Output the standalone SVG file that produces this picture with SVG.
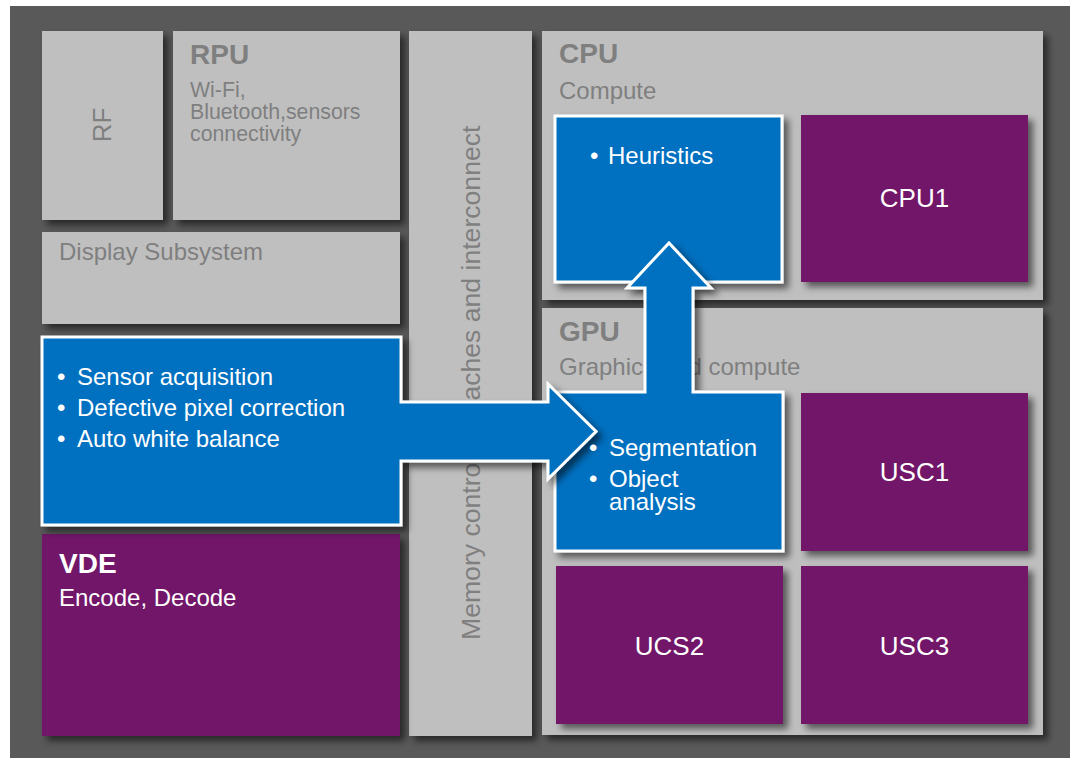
<svg xmlns="http://www.w3.org/2000/svg" width="1070" height="758" viewBox="0 0 1070 758">
<defs>
<filter id="sh" x="-10%" y="-10%" width="130%" height="130%">
<feDropShadow dx="5" dy="5" stdDeviation="3.5" flood-color="#000" flood-opacity="0.55"/>
</filter>
<style>
text{font-family:"Liberation Sans",Arial,sans-serif}
.box{fill:#bfbfbf;filter:url(#sh)}
.pur{fill:#711868;filter:url(#sh)}
.blue{fill:#0070c0;stroke:#fff;stroke-width:3;stroke-linejoin:miter;filter:url(#sh)}
.gt{fill:#7f7f7f;font-size:24px}
.gs{fill:#7f7f7f;font-size:21.3px}
.gb{fill:#7f7f7f;font-size:28px;font-weight:bold}
.wt{fill:#fff;font-size:24px}
.wl{fill:#fff;font-size:26px;text-anchor:middle}
.wb{fill:#fff;font-size:28px;font-weight:bold}
</style>
</defs>
<rect x="0" y="0" width="1070" height="758" fill="#fff"/>
<rect x="10" y="6" width="1060" height="752" fill="#595959"/>

<g id="rf">
<rect class="box" x="42" y="31" width="121" height="189"/>
<text class="gt" style="font-size:26px" text-anchor="middle" transform="translate(111,125) rotate(-90)">RF</text>
</g>
<g id="rpu">
<rect class="box" x="173" y="31" width="227" height="189"/>
<text class="gb" x="190" y="64">RPU</text>
<text class="gs" x="190" y="97">Wi-Fi,</text>
<text class="gs" x="190" y="119">Bluetooth,sensors</text>
<text class="gs" x="190" y="141">connectivity</text>
</g>
<g id="display">
<rect class="box" x="42" y="232" width="358" height="92"/>
<text class="gt" x="59" y="260">Display Subsystem</text>
</g>
<g id="memory">
<rect class="box" x="409" y="31" width="123" height="705"/>
<text class="gt" style="font-size:26.6px" transform="translate(480,640) rotate(-90)">Memory controller, caches and interconnect</text>
</g>
<g id="vde">
<rect class="pur" x="42" y="534" width="358" height="202"/>
<text class="wb" x="59" y="573">VDE</text>
<text class="wt" x="59" y="606">Encode, Decode</text>
</g>
<g id="cpu">
<rect class="box" x="542" y="31" width="501" height="269"/>
<text class="gb" x="559" y="63">CPU</text>
<text class="gt" x="559" y="99">Compute</text>
</g>
<g id="gpu">
<rect class="box" x="542" y="308" width="501" height="427"/>
<text class="gb" x="559" y="341">GPU</text>
<text class="gt" x="559" y="375">Graphics and compute</text>
</g>
<g id="cpu1">
<rect class="pur" x="801" y="115" width="227" height="167"/>
<text class="wl" x="914.5" y="207">CPU1</text>
</g>
<g id="usc1">
<rect class="pur" x="801" y="393" width="227" height="158"/>
<text class="wl" x="914.5" y="481">USC1</text>
</g>
<g id="ucs2">
<rect class="pur" x="556" y="566" width="227" height="158"/>
<text class="wl" x="669.5" y="655">UCS2</text>
</g>
<g id="usc3">
<rect class="pur" x="801" y="566" width="227" height="158"/>
<text class="wl" x="914.5" y="655">USC3</text>
</g>
<g id="heuristics">
<rect class="blue" x="555" y="116" width="227" height="166"/>
<text class="wt" x="590" y="164">•</text>
<text class="wt" x="608" y="164">Heuristics</text>
</g>
<g id="connectors">
<path id="segmentation-up" class="blue" d="M555,392 H645 V288 H627 L669,243 L711,288 H693 V392 H783 V551 H555 Z"/>
<path id="isp-right" class="blue" d="M42,337 H401 V402 H548 V384 L596,431.5 L548,479 V461 H401 V525 H42 Z"/>
</g>
<g id="segmentation">
<text class="wt" x="589" y="456">•</text>
<text class="wt" x="609" y="456">Segmentation</text>
<text class="wt" x="589" y="487">•</text>
<text class="wt" x="609" y="487">Object</text>
<text class="wt" x="609" y="510">analysis</text>
</g>
<g id="isp">
<text class="wt" x="57" y="385">•</text>
<text class="wt" x="77" y="385">Sensor acquisition</text>
<text class="wt" x="57" y="416">•</text>
<text class="wt" x="77" y="416">Defective pixel correction</text>
<text class="wt" x="57" y="447">•</text>
<text class="wt" x="77" y="447">Auto white balance</text>
</g>
</svg>
